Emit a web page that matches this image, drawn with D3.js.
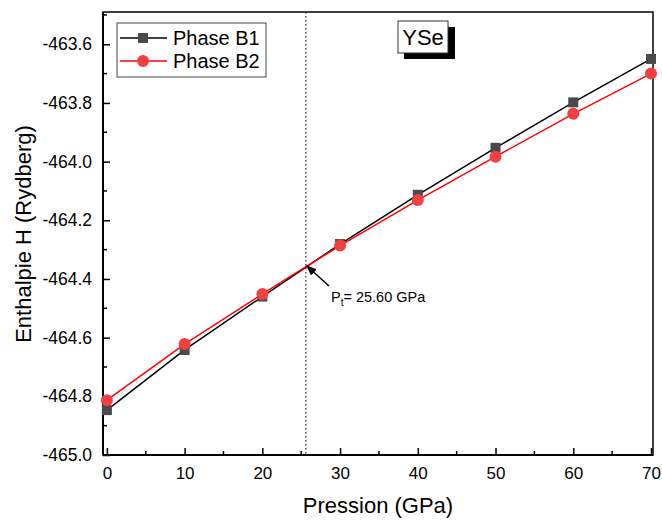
<!DOCTYPE html>
<html>
<head>
<meta charset="utf-8">
<script src="https://cdn.jsdelivr.net/npm/d3@7"></script>
<style>
  body { margin: 0; background: #fff; }
  text { font-family: Arial, "Liberation Sans", sans-serif; }
</style>
</head>
<body>
<svg id="chart"></svg>
<script>
const width = 662, height = 520;

// data
const pressures = [0, 10, 20, 30, 40, 50, 60, 70];
const phaseB1 = [-464.847, -464.642, -464.460, -464.281, -464.113, -463.953, -463.798, -463.650];
const phaseB2 = [-464.813, -464.622, -464.451, -464.286, -464.131, -463.983, -463.837, -463.700];
const transitionP = 25.6;
const xTicks = [0, 10, 20, 30, 40, 50, 60, 70];
const yTicks = [-465.0, -464.8, -464.6, -464.4, -464.2, -464.0, -463.8, -463.6];

const plotLeft = 103, plotRight = 653, plotTop = 12, plotBottom = 455;

const xScale = d3.scaleLinear().domain([-0.5, 70.26]).range([plotLeft, plotRight]);
const yScale = d3.scaleLinear().domain([-465.0, -463.49]).range([plotBottom, plotTop]);

const svg = d3.select("#chart")
  .attr("width", width)
  .attr("height", height);

// frame (top and right)
svg.append("rect")
  .attr("x", plotLeft).attr("y", plotTop)
  .attr("width", plotRight - plotLeft).attr("height", plotBottom - plotTop)
  .attr("fill", "none").attr("stroke", "#000").attr("stroke-width", 1.5);

// x axis, ticks inward
const xAxis = svg.append("g")
  .attr("transform", "translate(0," + plotBottom + ")")
  .call(d3.axisBottom(xScale).tickValues(xTicks).tickSize(-7).tickPadding(12).tickFormat(d3.format("d")));
xAxis.select(".domain").remove();
xAxis.selectAll("line").attr("stroke-width", 1.5);
xAxis.selectAll("text").attr("font-size", 17).attr("fill", "#000");

// minor x ticks
svg.append("g").selectAll("line")
  .data(d3.range(5, 70, 10))
  .join("line")
  .attr("x1", d => xScale(d)).attr("x2", d => xScale(d))
  .attr("y1", plotBottom).attr("y2", plotBottom - 4)
  .attr("stroke", "#000").attr("stroke-width", 1.5);

// y axis, ticks inward (plain hyphen for the minus sign, as in the original)
const yAxis = svg.append("g")
  .attr("transform", "translate(" + plotLeft + ",0)")
  .call(d3.axisLeft(yScale).tickValues(yTicks).tickSize(-7).tickPadding(11)
    .tickFormat(d => d.toFixed(1)));
yAxis.select(".domain").remove();
yAxis.selectAll("line").attr("stroke-width", 1.5);
yAxis.selectAll("text").attr("font-size", 17.5).attr("fill", "#000");

// minor y ticks
svg.append("g").selectAll("line")
  .data([-464.9, -464.7, -464.5, -464.3, -464.1, -463.9, -463.7, -463.5])
  .join("line")
  .attr("x1", plotLeft).attr("x2", plotLeft + 4)
  .attr("y1", d => yScale(d)).attr("y2", d => yScale(d))
  .attr("stroke", "#000").attr("stroke-width", 1.5);

// axis lines drawn on top
svg.append("line").attr("x1", plotLeft).attr("x2", plotRight).attr("y1", plotBottom).attr("y2", plotBottom)
  .attr("stroke", "#000").attr("stroke-width", 2);
svg.append("line").attr("x1", plotLeft).attr("x2", plotLeft).attr("y1", plotTop).attr("y2", plotBottom)
  .attr("stroke", "#000").attr("stroke-width", 2);

// axis titles
svg.append("text")
  .attr("x", 378).attr("y", 513)
  .attr("text-anchor", "middle").attr("font-size", 22)
  .text("Pression (GPa)");
svg.append("text")
  .attr("transform", "translate(31,234) rotate(-90)")
  .attr("text-anchor", "middle").attr("font-size", 22)
  .text("Enthalpie H (Rydberg)");

// transition line
svg.append("line")
  .attr("x1", xScale(transitionP)).attr("x2", xScale(transitionP))
  .attr("y1", plotTop).attr("y2", plotBottom)
  .attr("stroke", "#000").attr("stroke-width", 1).attr("stroke-dasharray", "1.5,2.5");

const line = d3.line().x(d => xScale(d[0])).y(d => yScale(d[1]));
const b1 = pressures.map((p, i) => [p, phaseB1[i]]);
const b2 = pressures.map((p, i) => [p, phaseB2[i]]);

svg.append("path").datum(b1).attr("d", line)
  .attr("fill", "none").attr("stroke", "#000").attr("stroke-width", 1.5);
svg.append("path").datum(b2).attr("d", line)
  .attr("fill", "none").attr("stroke", "#ff0000").attr("stroke-width", 1.5);

svg.append("g").selectAll("rect")
  .data(b1)
  .join("rect")
  .attr("x", d => xScale(d[0]) - 5).attr("y", d => yScale(d[1]) - 5)
  .attr("width", 10).attr("height", 10)
  .attr("fill", "#4a4a4a");

svg.append("g").selectAll("circle")
  .data(b2)
  .join("circle")
  .attr("cx", d => xScale(d[0])).attr("cy", d => yScale(d[1]))
  .attr("r", 6)
  .attr("fill", "#f04040");

// arrow annotation
svg.append("defs").append("marker")
  .attr("id", "arrow").attr("viewBox", "0 0 10 10")
  .attr("refX", 9).attr("refY", 5)
  .attr("markerWidth", 7).attr("markerHeight", 7)
  .attr("orient", "auto")
  .append("path").attr("d", "M0,1 L10,5 L0,9 Z").attr("fill", "#000");

svg.append("line")
  .attr("x1", 329).attr("y1", 286)
  .attr("x2", xScale(transitionP) + 1).attr("y2", 266)
  .attr("stroke", "#000").attr("stroke-width", 1.5)
  .attr("marker-end", "url(#arrow)");

const ann = svg.append("text").attr("x", 331).attr("y", 302).attr("font-size", 14.5);
ann.append("tspan").text("P");
ann.append("tspan").attr("font-size", 10).attr("dy", 4).text("t");
ann.append("tspan").attr("dy", -4).text("= " + transitionP.toFixed(2) + " GPa");

// legend
const legend = svg.append("g");
legend.append("rect")
  .attr("x", 117).attr("y", 23).attr("width", 149).attr("height", 54)
  .attr("fill", "#fff").attr("stroke", "#444").attr("stroke-width", 1);
const lg = [
  { name: "Phase B1", color: "#000", y: 38, shape: "square" },
  { name: "Phase B2", color: "#ff0000", y: 61, shape: "circle" }
];
lg.forEach(d => {
  legend.append("line")
    .attr("x1", 120).attr("x2", 167).attr("y1", d.y).attr("y2", d.y)
    .attr("stroke", d.color).attr("stroke-width", 1.5);
  if (d.shape === "square") {
    legend.append("rect").attr("x", 138).attr("y", d.y - 5).attr("width", 10).attr("height", 10).attr("fill", "#4a4a4a");
  } else {
    legend.append("circle").attr("cx", 143).attr("cy", d.y).attr("r", 6).attr("fill", "#f04040");
  }
  legend.append("text")
    .attr("x", 173).attr("y", d.y + 7).attr("font-size", 20)
    .text(d.name);
});

// YSe label with shadow
svg.append("rect").attr("x", 404).attr("y", 27).attr("width", 51).attr("height", 32).attr("fill", "#000");
svg.append("rect").attr("x", 398).attr("y", 21).attr("width", 50).attr("height", 32)
  .attr("fill", "#fff").attr("stroke", "#333").attr("stroke-width", 1);
svg.append("text").attr("x", 423).attr("y", 45).attr("text-anchor", "middle").attr("font-size", 22).text("YSe");
</script>
</body>
</html>
